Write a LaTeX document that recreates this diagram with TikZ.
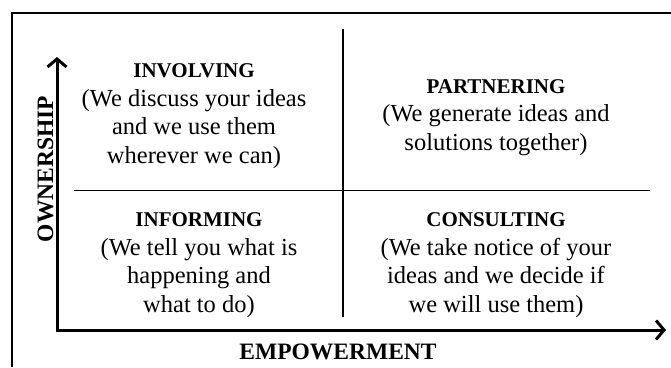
\documentclass[tikz,border=0pt]{standalone}
\usepackage{fontspec}
\setmainfont{Liberation Serif}
\usetikzlibrary{positioning}
\usetikzlibrary{arrows.meta}

\newcommand{\quadhead}[1]{{\fontsize{21}{26}\selectfont\bfseries #1}}

\begin{document}
\begin{tikzpicture}[x=1pt,y=-1pt,
  axis/.style={line width=3pt,{Straight Barb[length=8pt,width=19pt]}-{Straight Barb[length=8pt,width=19pt]}},
  divider/.style={line width=1.5pt},
  frame/.style={line width=2pt},
  quadrant/.style={align=center,inner sep=0pt,font=\fontsize{24.5}{28.5}\selectfont},
  axislabel/.style={inner sep=0pt,font=\fontsize{23.5}{28}\selectfont\bfseries}]
\useasboundingbox (0,0) rectangle (671,367);

\coordinate (frameB) at (12,367);
\coordinate (frameC) at (12,13);
\coordinate (frameR) at (671,13);

\coordinate (origin) at (57,330);
\coordinate (ownTip) at (57,57);
\coordinate (empTip) at (666,330);

\coordinate (divT) at (343,29);
\coordinate (divB) at (343,317);
\coordinate (divL) at (74,190.5);
\coordinate (divR) at (650,190.5);

% anchor=base sits on the last line
\node[quadrant,anchor=base](involving) at (194,163){\quadhead{INVOLVING}\\(We discuss your ideas\\and we use them\\wherever we can)};
\node[quadrant,anchor=base](partnering) at (496,150){\quadhead{PARTNERING}\\(We generate ideas and\\solutions together)};
\node[quadrant,anchor=base](informing) at (199,312){\quadhead{INFORMING}\\(We tell you what is\\happening and\\what to do)};
\node[quadrant,anchor=base](consulting) at (496,312){\quadhead{CONSULTING}\\(We take notice of your\\ideas and we decide if\\we will use them)};

\node[axislabel,rotate=90,anchor=base](ownership) at (53,169){OWNERSHIP};
\node[axislabel,anchor=base](empowerment) at (338,359){EMPOWERMENT};

\draw[frame] (frameB) -- (frameC) -- (frameR);
\draw[axis] (ownTip) -- (origin) -- (empTip);

\path
(divT) edge[divider] (divB)
(divL) edge[divider] (divR);
\end{tikzpicture}
\end{document}
